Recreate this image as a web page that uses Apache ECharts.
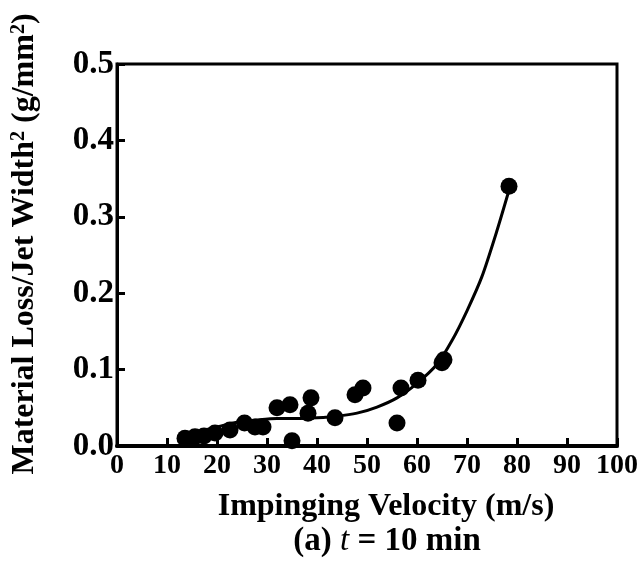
<!DOCTYPE html>
<html>
<head>
<meta charset="utf-8">
<script src="https://cdn.jsdelivr.net/npm/echarts@6/dist/echarts.min.js"></script>
<style>html,body{margin:0;padding:0;background:#fff}#c{width:644px;height:566px}</style>
</head>
<body>
<div id="c"></div>
<script>
// Measured points: impinging velocity (m/s) vs material loss / jet width^2 (g/mm^2)
const velocity = [13.6, 15.6, 17.4, 19.6, 22.6, 25.5, 27.6, 29.2, 32.0, 34.6, 35.0, 38.2, 38.8, 43.6, 47.6, 49.2, 56.0, 56.8, 60.2, 65.0, 65.4, 78.4];
const materialLoss = [0.010, 0.012, 0.013, 0.017, 0.021, 0.030, 0.025, 0.025, 0.050, 0.054, 0.007, 0.043, 0.063, 0.037, 0.067, 0.076, 0.030, 0.076, 0.086, 0.109, 0.113, 0.340];
// Fitted trend curve
const fitVelocity = [13.5, 17, 20, 24, 28, 32, 36, 40, 44, 48, 52, 56, 60, 64, 67, 70, 73, 76, 78.5];
const fitLoss = [0.015, 0.020, 0.025, 0.031, 0.034, 0.036, 0.036, 0.037, 0.039, 0.043, 0.051, 0.063, 0.082, 0.107, 0.138, 0.177, 0.222, 0.282, 0.337];
// Axis ticks
const xTicks = { min: 0, max: 100, interval: 10 };
const yTicks = { min: 0, max: 0.5, interval: 0.1 };
const xTitle = 'Impinging Velocity (m/s)';

const points = velocity.map((v, i) => [v, materialLoss[i]]);
const fit = fitVelocity.map((v, i) => [v, fitLoss[i]]);
const serif = '"Liberation Serif", "DejaVu Serif", serif';

const chart = echarts.init(document.getElementById('c'), null, { renderer: 'canvas' });
chart.setOption({
  animation: false,
  backgroundColor: '#fff',
  grid: { left: 117, right: 27, top: 64, bottom: 120, show: true, borderColor: '#000', borderWidth: 3, backgroundColor: 'transparent' },
  xAxis: {
    type: 'value', min: xTicks.min, max: xTicks.max, interval: xTicks.interval,
    axisLine: { lineStyle: { color: '#000', width: 4 } },
    axisTick: { inside: true, length: 8, lineStyle: { color: '#000', width: 3 } },
    axisLabel: { color: '#000', fontFamily: serif, fontWeight: 'bold', fontSize: 28, margin: 6 },
    splitLine: { show: false }
  },
  yAxis: {
    type: 'value', min: yTicks.min, max: yTicks.max, interval: yTicks.interval,
    axisLine: { lineStyle: { color: '#000', width: 3 } },
    axisTick: { inside: true, length: 8, lineStyle: { color: '#000', width: 3 } },
    axisLabel: { color: '#000', fontFamily: serif, fontWeight: 'bold', fontSize: 33, margin: 3,
      formatter: v => v.toFixed(1) },
    splitLine: { show: false }
  },
  series: [
    { type: 'line', data: fit, smooth: 0.25, showSymbol: false, symbol: 'none',
      lineStyle: { color: '#000', width: 3 }, z: 2 },
    { type: 'scatter', data: points, symbol: 'circle', symbolSize: 17,
      itemStyle: { color: '#000', opacity: 1 }, z: 3 }
  ],
  graphic: [
    { type: 'text', x: 386, y: 507, z: 10,
      style: { text: xTitle, fill: '#000', font: 'bold 32px ' + serif, align: 'center', verticalAlign: 'middle' } },
    { type: 'text', x: 387, y: 541, z: 10,
      style: { text: '{b|(a) }{i|t}{b| = 10 min}', align: 'center', verticalAlign: 'middle',
        rich: {
          b: { fill: '#000', fontFamily: serif, fontWeight: 'bold', fontSize: 33 },
          i: { fill: '#000', fontFamily: serif, fontStyle: 'italic', fontSize: 33 }
        } } },
    { type: 'text', x: 25, y: 244, rotation: Math.PI / 2, z: 10,
      style: { text: '{t|Material Loss/Jet Width}{s|2}{t| (g/mm}{s|2}{t|)}', align: 'center', verticalAlign: 'middle',
        rich: {
          t: { fill: '#000', fontFamily: serif, fontWeight: 'bold', fontSize: 32, lineHeight: 32 },
          s: { fill: '#000', fontFamily: serif, fontWeight: 'bold', fontSize: 20, verticalAlign: 'top' }
        } } }
  ]
});
</script>
</body>
</html>
